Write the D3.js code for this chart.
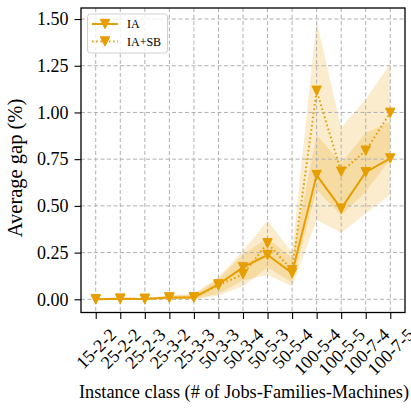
<!DOCTYPE html>
<html>
<head>
<meta charset="utf-8">
<script src="https://cdn.jsdelivr.net/npm/d3@7"></script>
<style>
  html, body { margin: 0; padding: 0; background: #fff; }
  svg { display: block; }
  text { font-family: "Liberation Serif", "Times New Roman", serif; fill: #000; }
</style>
</head>
<body>
<svg id="chart" width="411" height="411"></svg>
<script>
// Instance classes (# of Jobs-Families-Machines)
const categories = ["15-2-2", "25-2-2", "25-2-3", "25-3-2", "25-3-3", "50-3-3", "50-3-4",
                    "50-5-3", "50-5-4", "100-5-4", "100-5-5", "100-7-4", "100-7-5"];

// Average gap (%) per class
const iaMean   = [0.000, 0.003, 0.002, 0.010, 0.010, 0.080, 0.171, 0.237, 0.140, 0.665, 0.485, 0.680, 0.754];
const iaSbMean = [0.000, 0.003, 0.002, 0.008, 0.010, 0.075, 0.134, 0.300, 0.155, 1.116, 0.683, 0.795, 0.998];

// Spread bands around each series
const iaLow    = [0.000, 0.000, 0.000, 0.000, 0.000, 0.030, 0.100, 0.130, 0.070, 0.424, 0.355, 0.460, 0.560];
const iaHigh   = [0.005, 0.008, 0.006, 0.020, 0.025, 0.110, 0.240, 0.330, 0.220, 0.880, 0.730, 0.890, 0.950];
const iaSbLow  = [0.000, 0.000, 0.000, 0.000, 0.000, 0.020, 0.070, 0.170, 0.090, 0.585, 0.450, 0.576, 0.750];
const iaSbHigh = [0.005, 0.008, 0.006, 0.020, 0.030, 0.120, 0.260, 0.420, 0.250, 1.490, 0.920, 1.070, 1.260];

const yTicks = [0.00, 0.25, 0.50, 0.75, 1.00, 1.25, 1.50];

const series = [
  { name: "IA",    mean: iaMean,   low: iaLow,   high: iaHigh,   dash: null },
  { name: "IA+SB", mean: iaSbMean, low: iaSbLow, high: iaSbHigh, dash: "1.6,2.6" }
];

const color = "#E69F00";
const svg = d3.select("#chart");
const plot = { left: 81, right: 405, top: 8, bottom: 312.5 };

const x = d3.scaleLinear().domain([-0.6, categories.length - 1 + 0.6]).range([plot.left, plot.right]);
const y = d3.scaleLinear().domain([-0.0706, 1.559]).range([plot.bottom, plot.top]);

svg.append("defs").append("clipPath").attr("id", "plot-clip")
  .append("rect").attr("x", plot.left).attr("y", plot.top)
  .attr("width", plot.right - plot.left).attr("height", plot.bottom - plot.top);

const body = svg.append("g").attr("clip-path", "url(#plot-clip)");

// Shaded spread bands
const area = d3.area()
  .x((d, i) => x(i))
  .y0(d => y(d[0]))
  .y1(d => y(d[1]));

series.forEach(s => {
  body.append("path")
    .datum(s.low.map((lo, i) => [lo, s.high[i]]))
    .attr("d", area)
    .attr("fill", color)
    .attr("fill-opacity", 0.2)
    .attr("stroke", "none");
});

// Dashed grid
const grid = body.append("g").attr("stroke", "#b0b0b0").attr("stroke-width", 1)
  .attr("stroke-dasharray", "4,2.5");
yTicks.forEach(t => {
  grid.append("line").attr("x1", plot.left).attr("x2", plot.right)
    .attr("y1", y(t)).attr("y2", y(t));
});
categories.forEach((c, i) => {
  grid.append("line").attr("y1", plot.top).attr("y2", plot.bottom)
    .attr("x1", x(i)).attr("x2", x(i));
});

// Lines and markers
const line = d3.line().x((d, i) => x(i)).y(d => y(d));
const tri = (cx, cy, r) => `M${cx - r},${cy - r}L${cx + r},${cy - r}L${cx},${cy + r}Z`;

series.slice().reverse().forEach(s => {
  body.append("path")
    .datum(s.mean)
    .attr("d", line)
    .attr("fill", "none")
    .attr("stroke", color)
    .attr("stroke-width", 2)
    .attr("stroke-dasharray", s.dash);
  body.append("g").selectAll("path").data(s.mean).join("path")
    .attr("d", (d, i) => tri(x(i), y(d), 4.7))
    .attr("fill", color)
    .attr("stroke", color)
    .attr("stroke-width", 1)
    .attr("stroke-linejoin", "miter");
});

// Frame
svg.append("rect")
  .attr("x", plot.left).attr("y", plot.top)
  .attr("width", plot.right - plot.left).attr("height", plot.bottom - plot.top)
  .attr("fill", "none").attr("stroke", "#000").attr("stroke-width", 1.3);

// Y axis
const yAxis = d3.axisLeft(y).tickValues(yTicks).tickFormat(d3.format(".2f"))
  .tickSize(6.5).tickPadding(6);
const gy = svg.append("g").attr("transform", `translate(${plot.left},0)`).call(yAxis);
gy.select(".domain").remove();
gy.selectAll(".tick line").attr("stroke", "#000").attr("stroke-width", 1.1);
gy.selectAll(".tick text").attr("font-size", 18).attr("font-family", "Liberation Serif").attr("fill", "#000");

// X axis
const xAxis = d3.axisBottom(x).tickValues(d3.range(categories.length))
  .tickFormat(i => categories[i]).tickSize(6.5);
const gx = svg.append("g").attr("transform", `translate(0,${plot.bottom})`).call(xAxis);
gx.select(".domain").remove();
gx.selectAll(".tick line").attr("stroke", "#000").attr("stroke-width", 1.1);
gx.selectAll(".tick text")
  .attr("font-size", 18).attr("font-family", "Liberation Serif").attr("fill", "#000")
  .attr("text-anchor", "middle").attr("dominant-baseline", "central")
  .each(function () {
    const w = this.getComputedTextLength();
    const h = 18;
    const half = (w + h) * Math.SQRT1_2 / 2;
    d3.select(this).attr("x", 0).attr("y", 0).attr("dy", null)
      .attr("transform", `translate(0,${12.8 + half}) rotate(-45)`);
  });

// Axis titles
svg.append("text")
  .attr("x", (plot.left + plot.right) / 2 + 1).attr("y", 398)
  .attr("text-anchor", "middle").attr("font-size", 18.3)
  .text("Instance class (# of Jobs-Families-Machines)");

svg.append("text")
  .attr("transform", `translate(22,168) rotate(-90)`)
  .attr("text-anchor", "middle").attr("font-size", 20.5)
  .text("Average gap (%)");

// Legend
const lg = svg.append("g");
lg.append("rect").attr("x", 87.5).attr("y", 14).attr("width", 80).attr("height", 39)
  .attr("rx", 3).attr("fill", "#fff").attr("fill-opacity", 0.8)
  .attr("stroke", "#d0d0d0").attr("stroke-width", 1);
series.forEach((s, k) => {
  const cy = 24 + k * 17.5;
  lg.append("line").attr("x1", 92).attr("x2", 118).attr("y1", cy).attr("y2", cy)
    .attr("stroke", color).attr("stroke-width", 2).attr("stroke-dasharray", s.dash);
  lg.append("path").attr("d", tri(105, cy, 4.7)).attr("fill", color).attr("stroke", color);
  lg.append("text").attr("x", 127).attr("y", cy).attr("dy", "0.35em")
    .attr("font-size", 12).text(s.name);
});
</script>
</body>
</html>
